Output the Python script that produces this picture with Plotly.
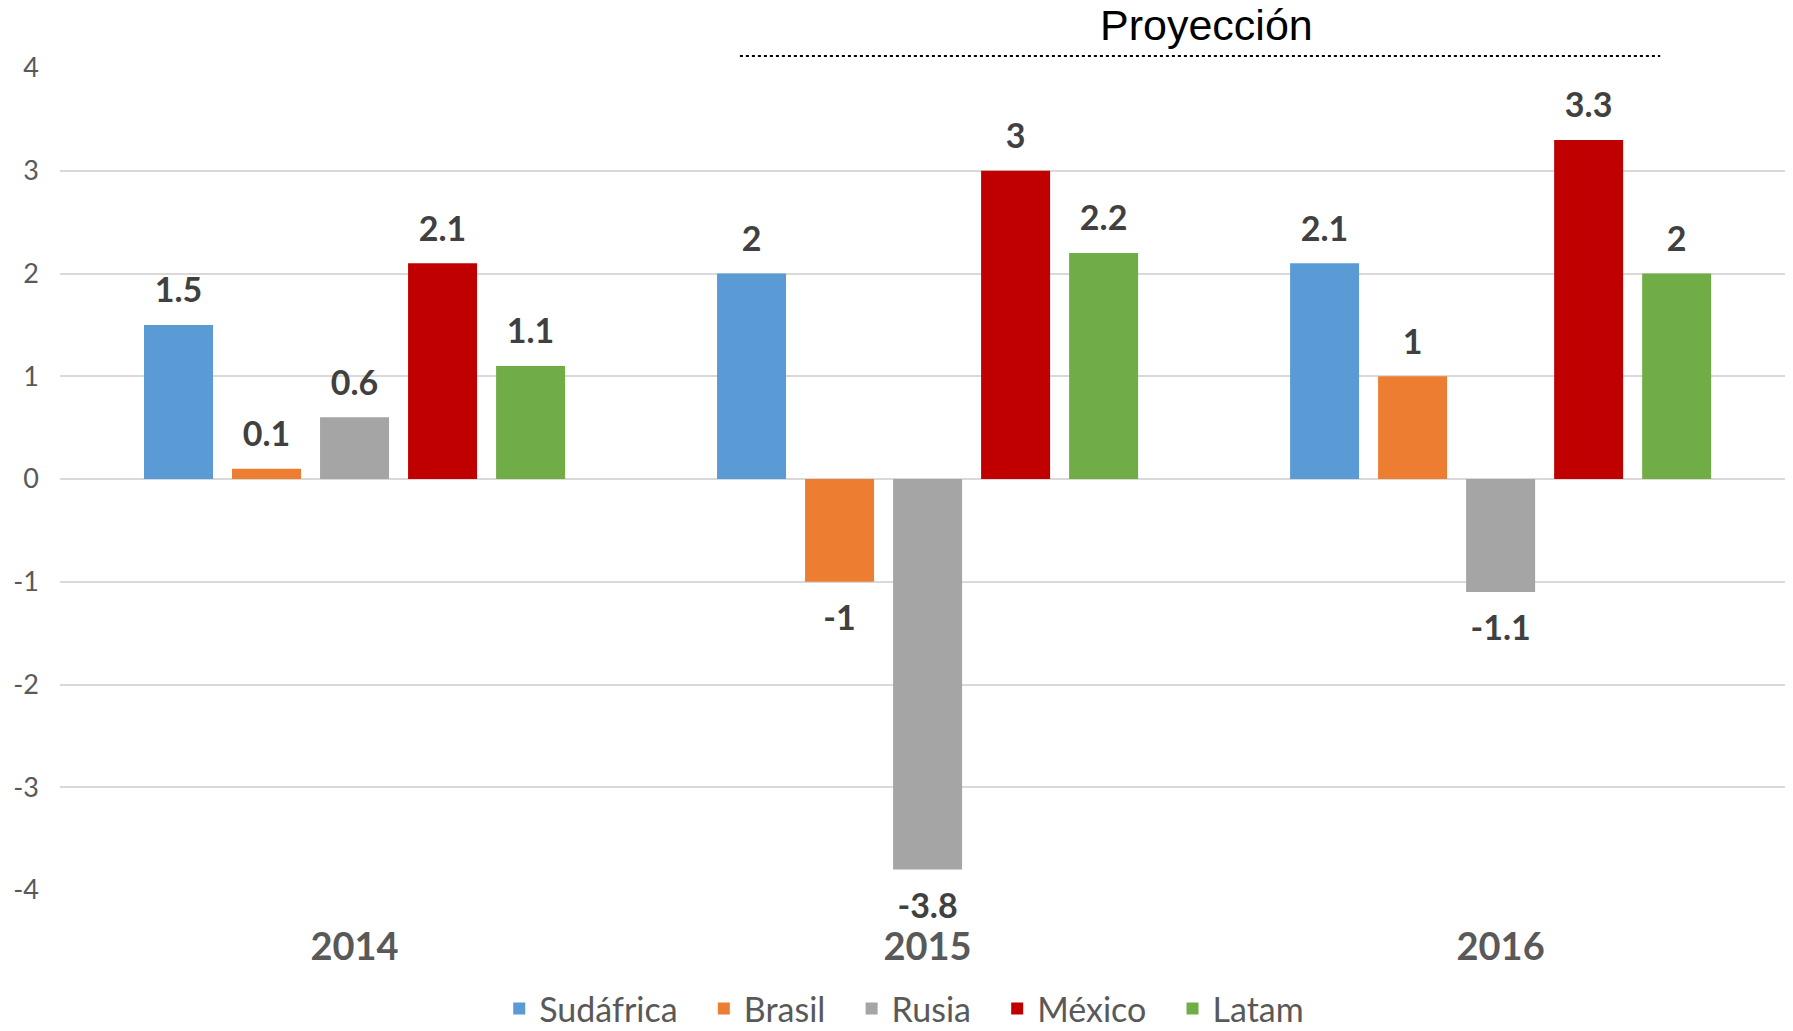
"""Crecimiento del PIB: Sudáfrica, Brasil, Rusia, México y Latam (2014-2016)."""
import plotly.graph_objects as go

YEARS = ["2014", "2015", "2016"]
SUDAFRICA = [1.5, 2.0, 2.1]
BRASIL = [0.1, -1.0, 1.0]
RUSIA = [0.6, -3.8, -1.1]
MEXICO = [2.1, 3.0, 3.3]
LATAM = [1.1, 2.2, 2.0]

Y_TICKS = [-4, -3, -2, -1, 0, 1, 2, 3, 4]

SERIES = [
    ("Sudáfrica", SUDAFRICA, "#5B9BD5"),
    ("Brasil", BRASIL, "#ED7D31"),
    ("Rusia", RUSIA, "#A5A5A5"),
    ("México", MEXICO, "#C00000"),
    ("Latam", LATAM, "#70AD47"),
]

FONT = "Lato, 'Open Sans', sans-serif"
LEGEND_PAD = "\u2002\u2009"  # a little extra room between legend entries

fig = go.Figure()
for i, (name, values, color) in enumerate(SERIES):
    pad = LEGEND_PAD if i < len(SERIES) - 1 else ""
    fig.add_trace(
        go.Bar(
            x=YEARS,
            y=values,
            name=name + pad,
            marker=dict(color=color, line=dict(width=0)),
            hovertemplate=name + ": %{y}<extra></extra>",
        )
    )

# value labels: invisible grouped markers keep the labels a bit off the bar ends
for name, values, color in SERIES:
    fig.add_trace(
        go.Scatter(
            x=YEARS,
            y=values,
            mode="markers+text",
            text=[f"{v:g}" for v in values],
            textposition=["top center" if v >= 0 else "bottom center" for v in values],
            textfont=dict(family=FONT, size=34, color="#404040", weight="bold"),
            marker=dict(size=[21 if v >= 0 else 35 for v in values], opacity=0),
            showlegend=False,
            hoverinfo="skip",
            cliponaxis=False,
        )
    )

# "Proyección" header over 2015-2016 with dotted rule
fig.add_annotation(
    text="Proyección",
    x=0.6625, y=1.052, xref="paper", yref="paper",
    xanchor="center", yanchor="middle",
    showarrow=False,
    font=dict(family="Liberation Sans, Arial, sans-serif", size=43, color="#000000"),
)
fig.add_shape(
    type="line", xref="paper", yref="paper",
    x0=0.393, x1=0.925, y0=1.0146, y1=1.0146,
    line=dict(color="#000000", width=2, dash="dot"),
)

# the page body adds an 8px offset, margins below account for it
fig.update_layout(
    width=1793,
    height=1031,
    paper_bgcolor="white",
    plot_bgcolor="white",
    margin=dict(l=52, r=11, t=60, b=149, autoexpand=False),
    barmode="group",
    bargap=0.232,
    bargroupgap=0.216,
    scattermode="group",
    scattergap=0.232,
    font=dict(family=FONT, color="#595959"),
    xaxis=dict(
        type="category",
        range=[-0.514, 2.505],
        showgrid=False,
        showline=False,
        ticks="outside",
        ticklen=23,
        tickcolor="rgba(0,0,0,0)",
        tickfont=dict(family=FONT, size=38, color="#595959", weight="bold"),
    ),
    yaxis=dict(
        range=[-4, 4],
        tickvals=Y_TICKS,
        ticktext=[str(t) for t in Y_TICKS],
        showgrid=True,
        gridcolor="#D9D9D9",
        gridwidth=1.5,
        zeroline=True,
        zerolinecolor="#D9D9D9",
        zerolinewidth=1.5,
        showline=False,
        ticklabelstandoff=20,
        tickfont=dict(family=FONT, size=27, color="#595959"),
    ),
    legend=dict(
        orientation="h",
        x=0.488,
        xanchor="center",
        y=-0.1445,
        yanchor="middle",
        font=dict(family=FONT, size=34, color="#595959"),
        traceorder="normal",
    ),
    showlegend=True,
)

fig.write_html("out.html")
